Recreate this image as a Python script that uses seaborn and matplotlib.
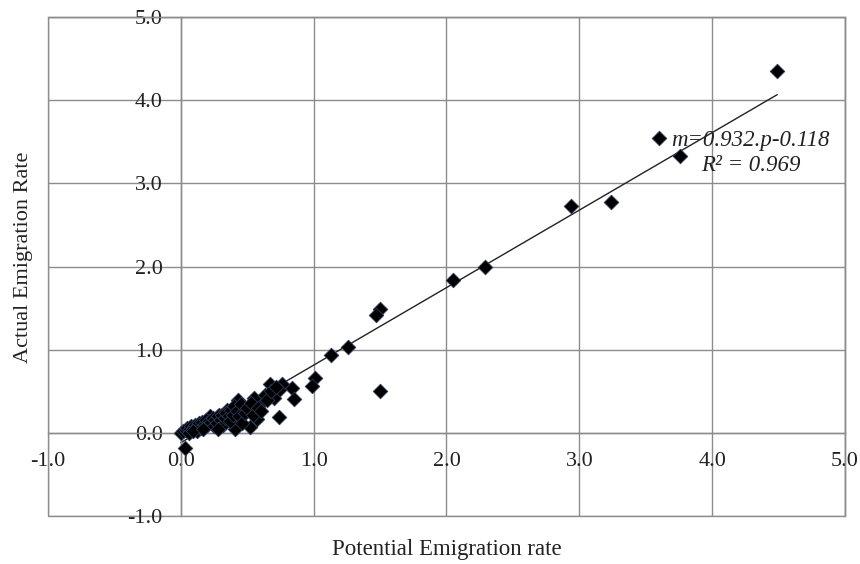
import numpy as np
import pandas as pd
import matplotlib
matplotlib.use("Agg")
import matplotlib.pyplot as plt
import seaborn as sns

# Dados
potencial = [4.49, 3.60, 3.76, 2.94, 3.24, 2.29, 2.05, 1.50, 1.47, 1.26,
             1.13, 1.01, 0.99, 1.50, 0.84, 0.85, 0.76, 0.67, 0.74, 0.74,
             0.70, 0.61, 0.55, 0.57, 0.52, 0.43, 0.47, 0.41, 0.35, 0.29,
             0.22, 0.12, 0.03,
             0.00, 0.02, 0.04, 0.05, 0.07, 0.08, 0.10, 0.11, 0.13, 0.14,
             0.15, 0.16, 0.18, 0.19, 0.20, 0.21, 0.23, 0.24, 0.25, 0.26,
             0.27, 0.28, 0.30, 0.31, 0.32, 0.33, 0.34, 0.36, 0.37, 0.38,
             0.39, 0.40, 0.42, 0.44, 0.45, 0.46, 0.48, 0.50, 0.53, 0.54,
             0.58, 0.60, 0.63, 0.65, 0.68, 0.72, 0.06, 0.09, 0.17, 0.28]
atual = [4.35, 3.55, 3.33, 2.73, 2.78, 1.99, 1.84, 1.49, 1.42, 1.03,
         0.93, 0.66, 0.56, 0.50, 0.54, 0.41, 0.59, 0.59, 0.51, 0.19,
         0.42, 0.37, 0.42, 0.17, 0.07, 0.39, 0.31, 0.05, 0.27, 0.21,
         0.20, 0.02, -0.18,
         0.00, 0.02, 0.03, 0.06, 0.05, 0.08, 0.07, 0.10, 0.09, 0.12,
         0.06, 0.13, 0.11, 0.16, 0.10, 0.14, 0.13, 0.18, 0.08, 0.16,
         0.12, 0.20, 0.15, 0.22, 0.10, 0.18, 0.24, 0.20, 0.14, 0.28,
         0.22, 0.32, 0.26, 0.20, 0.35, 0.12, 0.24, 0.30, 0.36, 0.22,
         0.30, 0.26, 0.45, 0.40, 0.50, 0.55, 0.00, 0.02, 0.05, 0.05]

# Linha de tendência (do próprio gráfico)
inclinacao = 0.932
intercepto = -0.118
ticks = [-1, 0, 1, 2, 3, 4, 5]

df = pd.DataFrame({'potencial': potencial, 'atual': atual})

sns.set_style('white')
plt.rcParams['font.family'] = ['Liberation Serif', 'DejaVu Serif']

fig = plt.figure(figsize=(8.6, 5.64), dpi=100)
ax = fig.add_axes([48 / 860, 1 - 516 / 564, 797 / 860, 499 / 564])

cinza = '#8c8c8c'
ax.grid(True, color=cinza, linewidth=1.0)
ax.set_axisbelow(True)

sns.scatterplot(data=df, x='potencial', y='atual', marker='D', s=55,
                color='black', edgecolor='#2a3a5a', linewidth=0.6,
                zorder=3, ax=ax)

# Tendência
xs = np.array([min(potencial), max(potencial)])
ax.plot(xs, inclinacao * xs + intercepto, color='#222222', linewidth=1.0, zorder=2)

ax.text(4.29, 3.36, 'm=0.932.p-0.118\nR² = 0.969', ha='center', va='center',
        fontsize=16.5, style='italic', color='#222222', linespacing=1.25, zorder=4)

ax.set_xlim(-1, 5)
ax.set_ylim(-1, 5)
ax.set_xticks(ticks)
ax.set_yticks(ticks)
ax.set_xticklabels([f'{t:.1f}' for t in ticks])
ax.set_yticklabels([f'{t:.1f}' for t in ticks])

# Eixos cruzando na origem (estilo Excel)
ax.spines['left'].set_position('zero')
ax.spines['bottom'].set_position('zero')
for sp in ax.spines.values():
    sp.set_color(cinza)
    sp.set_linewidth(1.0)
ax.patch.set_edgecolor(cinza)
ax.patch.set_linewidth(1.0)

ax.tick_params(axis='x', length=0, pad=14, labelsize=16, colors='#222222')
ax.tick_params(axis='y', length=0, pad=13, labelsize=16, colors='#222222')

ax.set_xlabel('Potential Emigration rate', fontsize=16.5, color='#222222')
ax.set_ylabel('Actual Emigration Rate', fontsize=16, color='#222222')
ax.xaxis.set_label_coords(0.5, -0.046)
ax.yaxis.set_label_coords(-0.019, 0.519)

fig.savefig('out.png', dpi=100)
